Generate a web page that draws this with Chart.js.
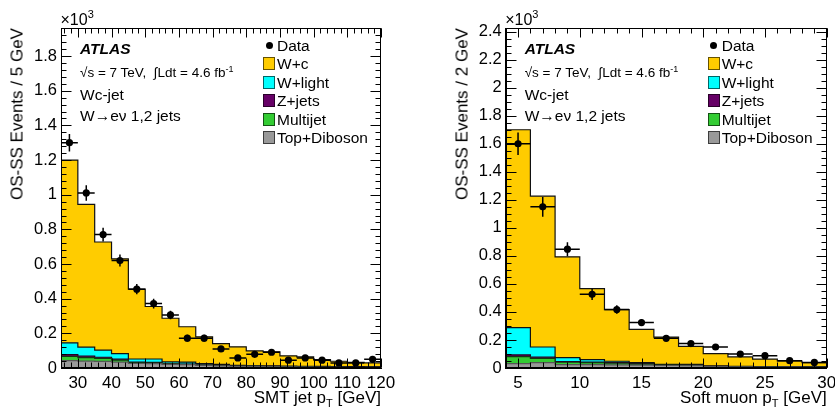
<!DOCTYPE html>
<html><head><meta charset="utf-8">
<script src="https://cdn.jsdelivr.net/npm/chart.js@4.4.1/dist/chart.umd.min.js"></script>
<style>
html,body{margin:0;padding:0;background:#fff;}
#wrap{position:relative;width:835px;height:407px;overflow:hidden;font-family:"Liberation Sans",Arial,Helvetica,sans-serif;color:#000;}
canvas{position:absolute;left:0;top:0;}
.t{position:absolute;white-space:nowrap;line-height:1;}
sup,sub{line-height:0;}
</style></head><body>
<div id="wrap">
<canvas id="c1" width="835" height="407"></canvas>
<canvas id="c2" width="835" height="407"></canvas>
</div>
<script>
// ---------------- data: left panel (SMT jet pT, 5 GeV bins) ----------------
const edgesL = [25,30,35,40,45,50,55,60,65,70,75,80,85,90,95,100,105,110,115,120];
const topDibL = [0.042,0.040,0.038,0.034,0.026,0.025,0.021,0.019,0.015,0.012,0.010,0.008,0.007,0.006,0.005,0.004,0.004,0.003,0.003];
const multijetL = [0.025,0.020,0.018,0.012,0.005,0.004,0.003,0.002,0.002,0.001,0.001,0.001,0.001,0.001,0.001,0.001,0.001,0.001,0.001];
const zjetsL = [0.010,0.008,0.006,0.005,0.003,0.003,0.002,0.002,0.001,0.001,0.001,0.001,0.001,0.001,0.001,0.001,0.001,0.001,0.001];
const wlightL = [0.068,0.052,0.041,0.032,0.018,0.020,0.009,0.011,0.007,0.007,0.003,0.003,0.003,0.003,0.003,0.003,0.002,0.003,0.002];
const wcL = [1.055,0.824,0.624,0.547,0.403,0.303,0.252,0.204,0.155,0.120,0.107,0.086,0.081,0.059,0.054,0.039,0.031,0.025,0.022];
const dataL = [1.30,1.01,0.77,0.62,0.455,0.372,0.306,0.172,0.172,0.110,0.058,0.079,0.091,0.045,0.058,0.045,0.029,0.029,0.050];
const errL = [0.050,0.045,0.040,0.035,0.030,0.028,0.025,0.020,0.020,0.017,0.014,0.014,0.014,0.012,0.012,0.011,0.010,0.010,0.010];
const xTicksL = [30,40,50,60,70,80,90,100,110,120];
const yTicksL = [0,0.2,0.4,0.6,0.8,1,1.2,1.4,1.6,1.8];

// ---------------- data: right panel (soft muon pT, 2 GeV bins) ----------------
const edgesR = [4,6,8,10,12,14,16,18,20,22,24,26,28,30];
const topDibR = [0.031,0.038,0.024,0.024,0.022,0.020,0.018,0.016,0.010,0.008,0.007,0.006,0.005];
const multijetR = [0.050,0.030,0.017,0.014,0.012,0.008,0.004,0.004,0.002,0.001,0.001,0.001,0.001];
const zjetsR = [0.012,0.009,0.004,0.004,0.004,0.003,0.002,0.002,0.001,0.001,0.001,0.001,0.001];
const wlightR = [0.195,0.073,0.029,0.018,0.010,0.007,0.002,0.004,0.001,0.002,0.001,0.001,0.001];
const wcR = [1.412,1.076,0.719,0.507,0.369,0.238,0.195,0.129,0.088,0.067,0.054,0.041,0.030];
const dataR = [1.60,1.15,0.848,0.526,0.417,0.324,0.212,0.174,0.150,0.100,0.088,0.052,0.040];
const errR = [0.080,0.070,0.050,0.040,0.030,0.025,0.020,0.018,0.016,0.014,0.013,0.011,0.010];
const xTicksR = [5,10,15,20,25,30];
const yTicksR = [0,0.2,0.4,0.6,0.8,1,1.2,1.4,1.6,1.8,2,2.2,2.4];

// ---------------- legend ----------------
const seriesNames = ['W+c','W+light','Z+jets','Multijet','Top+Diboson'];
const seriesColors = ['#ffcc00','#00ffff','#660066','#33cc33','#999999'];

const FONT = '"Liberation Sans", Arial, Helvetica, sans-serif';

function histPoints(edges, vals){
  const pts = vals.map((v,i)=>({x:edges[i], y:v}));
  pts.push({x:edges[edges.length-1], y:vals[vals.length-1]});
  return pts;
}
function minorVals(min,max,step){
  const out=[]; const k0=Math.ceil(min/step-1e-9), k1=Math.floor(max/step+1e-9);
  for(let k=k0;k<=k1;k++) out.push(+(k*step).toFixed(6));
  return out;
}

const rootFrame = {
  id:'rootFrame',
  afterDraw(chart, args, o){
    const {ctx, chartArea:a} = chart; const x=chart.scales.x, y=chart.scales.y;
    ctx.save(); ctx.strokeStyle='#000'; ctx.lineWidth=1;
    const L=Math.round(a.left)+0.5, R=Math.round(a.right)-0.5, T=Math.round(a.top)+0.5, B=Math.round(a.bottom)-0.5;
    ctx.beginPath();
    const xt=(v,len)=>{const p=Math.round(x.getPixelForValue(v))+0.5; ctx.moveTo(p,B); ctx.lineTo(p,B-len); ctx.moveTo(p,T); ctx.lineTo(p,T+len);};
    const yt=(v,len)=>{const p=Math.round(y.getPixelForValue(v))+0.5; ctx.moveTo(L,p); ctx.lineTo(L+len,p); ctx.moveTo(R,p); ctx.lineTo(R-len,p);};
    minorVals(x.min,x.max,o.xMinor).forEach(v=>xt(v,5));
    o.xMajor.forEach(v=>xt(v,9));
    minorVals(y.min,y.max,o.yMinor).forEach(v=>yt(v,5));
    o.yMajor.forEach(v=>yt(v,10));
    ctx.stroke();
    ctx.strokeRect(L,T,R-L,B-T);
    ctx.restore();
  }
};
const errBars = {
  id:'errBars',
  afterDatasetsDraw(chart){
    const {ctx} = chart; const x=chart.scales.x, y=chart.scales.y;
    chart.data.datasets.forEach(ds=>{
      if(!ds.errY) return;
      ctx.save(); ctx.strokeStyle='#000'; ctx.lineWidth=1.5; ctx.beginPath();
      ds.data.forEach((p,j)=>{
        const xl=x.getPixelForValue(ds.binLo[j]), xh=x.getPixelForValue(ds.binHi[j]);
        const py=y.getPixelForValue(p.y), px=x.getPixelForValue(p.x);
        ctx.moveTo(xl,py); ctx.lineTo(xh,py);
        ctx.moveTo(px,y.getPixelForValue(p.y+ds.errY[j])); ctx.lineTo(px,y.getPixelForValue(Math.max(0,p.y-ds.errY[j])));
      });
      ctx.stroke(); ctx.restore();
    });
  }
};

function makeChart(id, P){
  const comps = [P.topDib, P.multijet, P.zjets, P.wlight, P.wc];
  const names = ['Top+Diboson','Multijet','Z+jets','W+light','W+c'];
  const cols = ['#999999','#33cc33','#660066','#00ffff','#ffcc00'];
  const borders = ['#555555','#113311','#220022','#111111','#111111'];
  const ds = comps.map((vals,i)=>({
    type:'line', label:names[i], data:histPoints(P.edges, vals), stepped:'before',
    fill: i===0 ? 'origin' : '-1', backgroundColor:cols[i], borderColor:borders[i],
    borderWidth:1.2, pointRadius:0, stack:'mc', order:1
  }));
  const centers = P.data.map((v,j)=>(P.edges[j]+P.edges[j+1])/2);
  ds.push({
    type:'scatter', label:'Data', data:P.data.map((v,j)=>({x:centers[j], y:v})),
    binLo:P.edges.slice(0,-1), binHi:P.edges.slice(1), errY:P.err,
    pointRadius:3.6, pointBackgroundColor:'#000', pointBorderColor:'#000', pointBorderWidth:0,
    stack:'data', order:0
  });
  return new Chart(document.getElementById(id), {
    type:'line',
    data:{datasets:ds},
    plugins:[errBars, rootFrame],
    options:{
      responsive:false, animation:false,
      layout:{padding:{left:P.padL, right:P.padR, top:28, bottom:0}},
      plugins:{legend:{display:false}, tooltip:{enabled:false},
        rootFrame:{xMajor:P.xTicks, xMinor:P.xMinor, yMajor:P.yTicks, yMinor:P.yMinor}},
      scales:{
        x:{type:'linear', min:P.xMin, max:P.xMax,
          grid:{display:false, drawTicks:false}, border:{display:true, color:'#000', width:1},
          ticks:{color:'#000', font:{family:FONT, size:17}, padding:5, maxRotation:0, autoSkip:false, callback:v=>String(v)},
          afterBuildTicks:s=>{s.ticks=P.xTicks.map(v=>({value:v}));},
          afterFit:s=>{s.height=39; s.paddingLeft=0; s.paddingRight=0;}
        },
        y:{type:'linear', stacked:true, min:0, max:P.yMax,
          grid:{display:false, drawTicks:false}, border:{display:true, color:'#000', width:1},
          ticks:{color:'#000', font:{family:FONT, size:16.5}, padding:4, autoSkip:false, callback:v=>String(Math.round(v*10)/10)},
          afterBuildTicks:s=>{s.ticks=P.yTicks.map(v=>({value:v}));},
          afterFit:s=>{s.width=P.yW; s.paddingTop=0; s.paddingBottom=0;}
        }
      }
    }
  });
}

makeChart('c1',{edges:edgesL, topDib:topDibL, multijet:multijetL, zjets:zjetsL, wlight:wlightL, wc:wcL,
  data:dataL, err:errL, xTicks:xTicksL, yTicks:yTicksL, xMin:25, xMax:120, yMax:1.962, xMinor:2, yMinor:0.04,
  padL:0, padR:454, yW:61});
makeChart('c2',{edges:edgesR, topDib:topDibR, multijet:multijetR, zjets:zjetsR, wlight:wlightR, wc:wcR,
  data:dataR, err:errR, xTicks:xTicksR, yTicks:yTicksR, xMin:4, xMax:30, yMax:2.426, xMinor:1, yMinor:0.05,
  padL:445, padR:8.3, yW:60.7});

// ---------------- text overlays ----------------
const wrap = document.getElementById('wrap');
function addText(html, left, top, size, style){
  const d=document.createElement('div'); d.className='t'; d.innerHTML=html;
  d.style.left=left+'px'; d.style.top=top+'px'; d.style.fontSize=size+'px';
  if(style) d.style.cssText += style;
  wrap.appendChild(d); return d;
}
function panelText(L, R, yTitle, xTitle){
  addText('&times;10<sup style="font-size:11px;vertical-align:7px">3</sup>', L-0.5, 12, 16);
  addText('ATLAS', L+19, 41, 15.5, 'font-weight:bold;font-style:italic;');
  addText('&radic;s = 7 TeV,&nbsp; &int;Ldt = 4.6 fb<sup style="font-size:9px;vertical-align:5px">-1</sup>', L+19, 65.5, 13.5);
  addText('Wc-jet', L+19, 86.5, 15.5);
  addText('W&rarr;e&nu; 1,2 jets', L+19, 108, 15.5);
  // legend
  const rowC = [45.3, 63.7, 82.2, 100.5, 119.3, 137.7];
  const dot=document.createElement('div');
  dot.style.cssText='position:absolute;width:7px;height:7px;border-radius:50%;background:#000;left:'+(L+204.5)+'px;top:'+(rowC[0]-3.5)+'px;';
  wrap.appendChild(dot);
  addText('Data', L+216, rowC[0]-7.6, 15.5);
  seriesNames.forEach((n,i)=>{
    const b=document.createElement('div');
    b.style.cssText='position:absolute;box-sizing:border-box;width:12px;height:13px;border:1.5px solid rgba(0,0,0,0.6);background:'+seriesColors[i]+';left:'+(L+202)+'px;top:'+(rowC[i+1]-6.5)+'px;';
    wrap.appendChild(b);
    addText(n, L+216, rowC[i+1]-7.6, 15.5);
  });
  // axis titles
  addText(yTitle, L-44, 28, 17, 'transform-origin:0 0;transform:rotate(-90deg) translate(-100%,-50%);');
  const xt = addText(xTitle, 0, 388.5, 17);
  xt.style.left='auto'; xt.style.right=(835-R)+'px';
}
panelText(61, 381, 'OS-SS Events / 5 GeV', 'SMT jet p<sub style="font-size:11px;vertical-align:-4px">T</sub> [GeV]');
panelText(505.7, 826.7, 'OS-SS Events / 2 GeV', 'Soft muon p<sub style="font-size:11px;vertical-align:-4px">T</sub> [GeV]');
</script>
</body></html>
